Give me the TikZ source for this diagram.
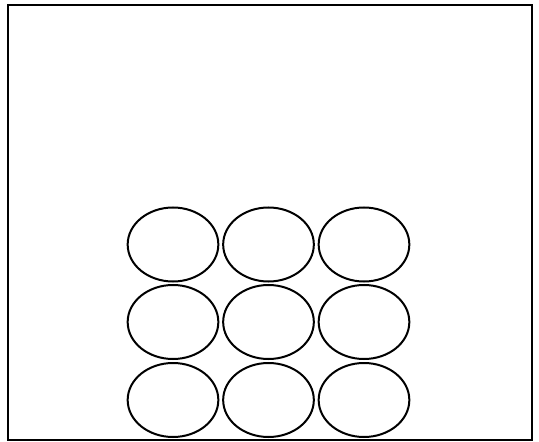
\documentclass[tikz,border=0pt]{standalone}
\usetikzlibrary{shapes.geometric}
\begin{document}
\begin{tikzpicture}[x=0.75pt,y=-0.75pt,
  cell/.style={ellipse,draw,line width=1.5pt,minimum width=68pt,minimum height=55.5pt,inner sep=0pt},
  frame/.style={draw,line width=1.5pt}]
\useasboundingbox (0,0) rectangle (539,442);
\draw[frame] (7.5,5.5) rectangle (531.5,439.5);
\node[cell] (c11) at (173,244.5) {};
\node[cell] (c12) at (268.5,244.5) {};
\node[cell] (c13) at (364,244.5) {};
\node[cell] (c21) at (173,322) {};
\node[cell] (c22) at (268.5,322) {};
\node[cell] (c23) at (364,322) {};
\node[cell] (c31) at (173,400) {};
\node[cell] (c32) at (268.5,400) {};
\node[cell] (c33) at (364,400) {};
\end{tikzpicture}
\end{document}
